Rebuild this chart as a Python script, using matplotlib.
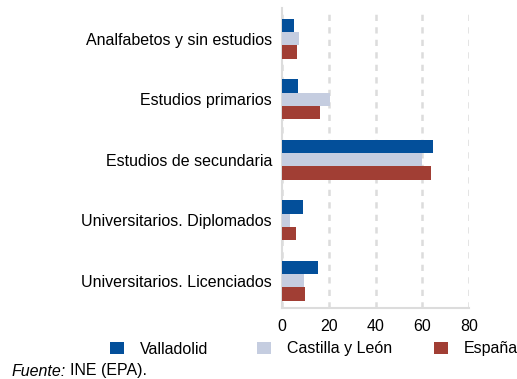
import matplotlib.pyplot as plt
from matplotlib.patches import Patch
import numpy as np

plt.rcParams['font.family'] = ['Liberation Sans', 'DejaVu Sans']
plt.rcParams['font.size'] = 11.5

# Nivel de formación (%)
categorias = ["Analfabetos y sin estudios", "Estudios primarios",
              "Estudios de secundaria", "Universitarios. Diplomados",
              "Universitarios. Licenciados"]
valladolid = [5.4, 6.8, 64.4, 8.9, 15.6]
castilla = [7.5, 20.6, 60.0, 3.7, 9.4]
espana = [6.6, 16.2, 63.7, 6.1, 9.8]
series = ["Valladolid", "Castilla y León", "España"]
colores = ["#034F9A", "#C5CDE0", "#A13E34"]
xticks = [0, 20, 40, 60, 80]

fig = plt.figure(figsize=(5.17, 3.79), dpi=100)
ax = fig.add_axes([0.5449, 0.1873, 0.3629, 0.7916])

y = np.arange(len(categorias))
h = 0.22
for i, (vals, c) in enumerate(zip([valladolid, castilla, espana], colores)):
    ax.barh(y + (i - 1) * h, vals, height=h, color=c, zorder=3)

ax.set_xlim(0, 80)
ax.set_ylim(4.45, -0.51)
ax.set_yticks(y)
ax.set_yticklabels(categorias)
ax.set_xticks(xticks)
ax.tick_params(axis='y', length=0, pad=7)
ax.tick_params(axis='x', length=0, pad=8)
ax.grid(axis='x', color='#DCDCDC', linestyle=(0, (2.5, 2.5)), linewidth=1.8, zorder=0)
for s in ['top', 'right']:
    ax.spines[s].set_visible(False)
for s in ['left', 'bottom']:
    ax.spines[s].set_color('#DCDCDC')
    ax.spines[s].set_linewidth(1.5)

# one legend per series so each entry sits at its own column
legend_x = [110, 257, 434]
for nombre, c, lx in zip(series, colores, legend_x):
    leg = fig.legend([Patch(facecolor=c, edgecolor='none')], [nombre],
                     loc='center left', bbox_to_anchor=(lx / 517, 1 - 349 / 379),
                     frameon=False, borderpad=0, borderaxespad=0,
                     handlelength=0.85, handleheight=0.7, handletextpad=1.0)

t = fig.text(12 / 517, 1 - 371 / 379, "Fuente:", style='italic', va='center')
fig.canvas.draw()
bb = t.get_window_extent()
fig.text(bb.x1 / 517 + 4 / 517, 1 - 371 / 379, "INE (EPA).", va='center')

fig.savefig("out.png", dpi=100)
